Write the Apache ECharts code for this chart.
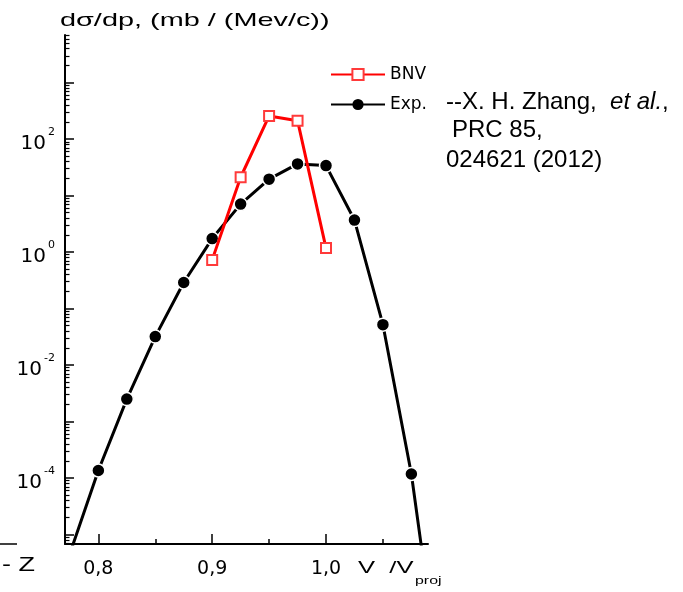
<!DOCTYPE html>
<html>
<head>
<meta charset="utf-8">
<script src="https://cdn.jsdelivr.net/npm/echarts@6/dist/echarts.min.js"></script>
<style>
html,body{margin:0;padding:0;background:#fff;}
#chart{width:683px;height:592px;}
</style>
</head>
<body>
<div id="chart"></div>
<script>
// ---- data ----
const expX      = [0.775, 0.8, 0.825, 0.85, 0.875, 0.9, 0.925, 0.95, 0.975, 1.0, 1.025, 1.05, 1.075, 1.1];
const expValues = [4.6e-6, 1.36e-4, 2.5e-3, 0.032, 0.29, 1.74, 7.1, 19.6, 36.5, 34.1, 3.7, 0.052, 1.18e-4, 2.6e-8];
const bnvX      = [0.9, 0.925, 0.95, 0.975, 1.0];
const bnvValues = [0.73, 21.2, 258, 213, 1.18];

// ---- axis ticks / labels ----
const xMajorTicks = [0.8, 0.9, 1.0];
const xMinorTicks = [0.85, 0.95, 1.05];
const xTickLabels = ['0,8', '0,9', '1,0'];
const yDecades    = [-6, -5, -4, -3, -2, -1, 0, 1, 2, 3];
const yLabelExps  = [-4, -2, 0, 2];
const yMinorMult  = [2, 3, 4, 5, 6, 7, 8, 9];

const yMin = 6.8e-6, yMax = 7000;
const yMajorTicks = yDecades.map(d => Math.pow(10, d)).filter(v => v >= yMin && v <= yMax);
const yMinorTicks = [];
yDecades.forEach(d => yMinorMult.forEach(m => {
  const v = m * Math.pow(10, d);
  if (v >= yMin && v <= yMax) yMinorTicks.push(v);
}));
const yLabelTicks = yLabelExps.map(e => Math.pow(10, e));

const chart = echarts.init(document.getElementById('chart'), null, {renderer: 'canvas'});

const option = {
  backgroundColor: '#ffffff',
  animation: false,
  textStyle: {fontFamily: 'DejaVu Sans'},
  grid: {left: 65, top: 35, width: 363, height: 509, containLabel: false, outerBoundsMode: 'none'},
  legend: {
    data: [{name: 'BNV'}, {name: 'Exp.', itemStyle: {borderWidth: 0}}],
    orient: 'vertical',
    left: 325,
    top: 61,
    itemWidth: 54,
    itemHeight: 14,
    itemGap: 13,
    textStyle: {fontFamily: 'DejaVu Sans', fontSize: 17, color: '#000'}
  },
  xAxis: [
    {
      type: 'value', min: 0.7707, max: 1.0896,
      axisLine: {show: true, onZero: false, lineStyle: {color: '#000', width: 2}},
      axisTick: {show: true, inside: true, length: 10, customValues: xMajorTicks, lineStyle: {color: '#000', width: 1.5}},
      axisLabel: {
        show: true, customValues: xMajorTicks, margin: 16,
        fontFamily: 'DejaVu Sans', fontSize: 19, color: '#000',
        formatter: v => xTickLabels[xMajorTicks.findIndex(t => Math.abs(t - v) < 1e-6)]
      },
      splitLine: {show: false}
    },
    {
      type: 'value', min: 0.7707, max: 1.0896, position: 'bottom',
      axisLine: {show: false, onZero: false},
      axisTick: {show: true, inside: true, length: 5, customValues: xMinorTicks, lineStyle: {color: '#000', width: 1.5}},
      axisLabel: {show: false},
      splitLine: {show: false}
    }
  ],
  yAxis: [
    {
      type: 'log', logBase: 10, min: yMin, max: yMax, position: 'left',
      axisLine: {show: true, onZero: false, lineStyle: {color: '#000', width: 2}},
      axisTick: {show: true, inside: true, length: 9, customValues: yMajorTicks, lineStyle: {color: '#000', width: 1.5}},
      axisLabel: {
        show: true, customValues: yLabelTicks, margin: 10, color: '#000',
        formatter: v => '{b|10}{s|' + Math.round(Math.log10(v)) + '}',
        rich: {
          b: {fontFamily: 'DejaVu Sans', fontSize: 20, lineHeight: 20, color: '#000', padding: [10, 0, 0, 0]},
          s: {fontFamily: 'DejaVu Sans', fontSize: 11, lineHeight: 11, color: '#000', padding: [0, 0, 14, 2]}
        }
      },
      splitLine: {show: false}
    },
    {
      type: 'log', logBase: 10, min: yMin, max: yMax, position: 'left', offset: 0,
      axisLine: {show: false, onZero: false},
      axisTick: {show: true, inside: true, length: 4.5, customValues: yMinorTicks, lineStyle: {color: '#000', width: 1.2}},
      axisLabel: {show: false},
      splitLine: {show: false}
    }
  ],
  series: [
    {
      name: 'Exp.', type: 'line', xAxisIndex: 0, yAxisIndex: 0, clip: true, z: 2,
      data: expX.map((x, i) => [x, expValues[i]]),
      symbol: 'circle', symbolSize: 13,
      itemStyle: {color: '#000', borderColor: '#fff', borderWidth: 1.5},
      lineStyle: {color: '#000', width: 3}
    },
    {
      name: 'BNV', type: 'line', xAxisIndex: 0, yAxisIndex: 0, clip: true, z: 3,
      data: bnvX.map((x, i) => [x, bnvValues[i]]),
      symbol: 'emptyRect', symbolSize: 10,
      itemStyle: {color: '#ff3a3a', borderWidth: 1.5},
      lineStyle: {color: '#ff0000', width: 3}
    }
  ],
  graphic: [
    {type: 'text', x: 60, y: 21, scaleX: 1.56, style: {text: 'dσ/dp, (mb / (Mev/c))', fontFamily: 'Liberation Sans', fontSize: 18.5, fill: '#000', align: 'left', verticalAlign: 'middle'}},
    {type: 'text', x: 446, y: 102, style: {
      text: '{n|--X. H. Zhang,  }{i|et al.}{n|,}', fill: '#000', align: 'left', verticalAlign: 'middle',
      rich: {n: {fontFamily: 'Liberation Sans', fontSize: 24, fill: '#000'}, i: {fontFamily: 'Liberation Sans', fontSize: 24, fontStyle: 'italic', fill: '#000'}}
    }},
    {type: 'text', x: 452, y: 130, style: {text: 'PRC 85,', fontFamily: 'Liberation Sans', fontSize: 24, fill: '#000', align: 'left', verticalAlign: 'middle'}},
    {type: 'text', x: 446, y: 160, style: {text: '024621 (2012)', fontFamily: 'Liberation Sans', fontSize: 24, fill: '#000', align: 'left', verticalAlign: 'middle'}},
    {type: 'text', x: 358, y: 568.5, scaleX: 1.6, style: {text: 'V  /V', fontFamily: 'Liberation Sans', fontSize: 16, fill: '#000', align: 'left', verticalAlign: 'middle'}},
    {type: 'text', x: 415, y: 581, scaleX: 1.45, style: {text: 'proj', fontFamily: 'Liberation Sans', fontSize: 11, fill: '#000', align: 'left', verticalAlign: 'middle'}},
    {type: 'text', x: 2, y: 565.5, scaleX: 1.35, style: {text: '- Z', fontFamily: 'Liberation Sans', fontSize: 20, fill: '#000', align: 'left', verticalAlign: 'middle'}},
    {type: 'line', shape: {x1: 0, y1: 544, x2: 17, y2: 544}, style: {stroke: '#000', lineWidth: 1.5}}
  ]
};

chart.setOption(option);
</script>
</body>
</html>
